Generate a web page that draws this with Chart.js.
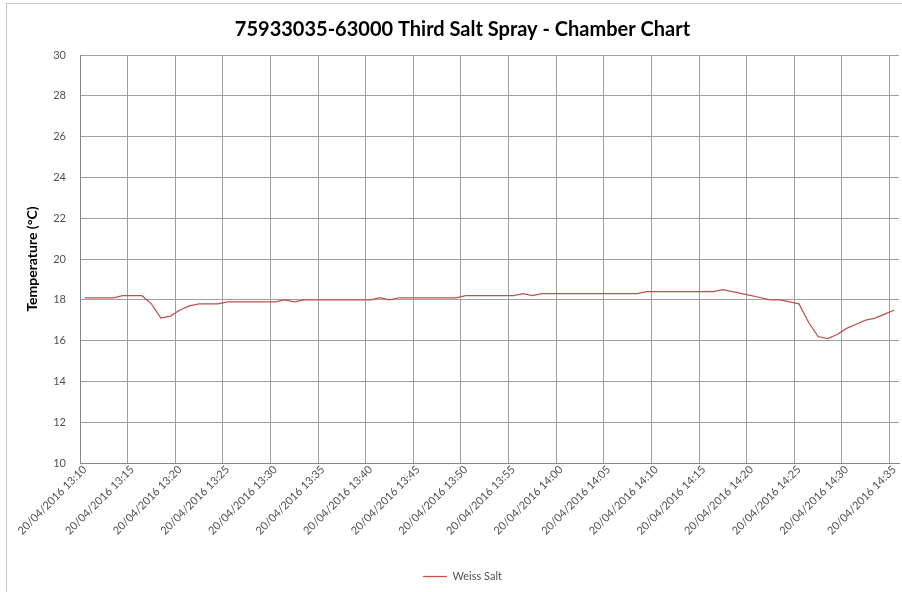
<!DOCTYPE html>
<html>
<head>
<meta charset="utf-8">
<script src="https://cdn.jsdelivr.net/npm/chart.js@4/dist/chart.umd.min.js"></script>
<style>
  html, body { margin: 0; padding: 0; background: #fff; overflow: hidden; }
  #wrap { width: 902px; height: 592px; overflow: hidden; }
</style>
</head>
<body>
<div id="wrap"><canvas id="chamberChart" width="925" height="592"></canvas></div>
<script>
// One reading per minute, 20/04/2016 13:10 to 14:35
const categories = [];
for (let m = 10; m <= 95; m++) {
    const hh = 13 + Math.floor(m / 60);
    const mm = String(m % 60).padStart(2, "0");
    categories.push("20/04/2016 " + hh + ":" + mm);
}

const weissSalt = [
    18.1, 18.1, 18.1, 18.1, 18.2, 18.2, 18.2, 17.8, 17.1, 17.2,
    17.5, 17.7, 17.8, 17.8, 17.8, 17.9, 17.9, 17.9, 17.9, 17.9,
    17.9, 18.0, 17.9, 18.0, 18.0, 18.0, 18.0, 18.0, 18.0, 18.0,
    18.0, 18.1, 18.0, 18.1, 18.1, 18.1, 18.1, 18.1, 18.1, 18.1,
    18.2, 18.2, 18.2, 18.2, 18.2, 18.2, 18.3, 18.2, 18.3, 18.3,
    18.3, 18.3, 18.3, 18.3, 18.3, 18.3, 18.3, 18.3, 18.3, 18.4,
    18.4, 18.4, 18.4, 18.4, 18.4, 18.4, 18.4, 18.5, 18.4, 18.3,
    18.2, 18.1, 18.0, 18.0, 17.9, 17.8, 16.9, 16.2, 16.1, 16.3,
    16.6, 16.8, 17.0, 17.1, 17.3, 17.5,
];

const labelEvery = 5;
const tickFont = { family: "Lato", size: 11 };
const textGrey = "#505050";
const gridGrey = "#a0a0a0";

// white background and the light frame of the chart
const chartBorder = {
    id: "chartBorder",
    beforeDraw(chart) {
        const ctx = chart.ctx;
        ctx.save();
        ctx.fillStyle = "#fff";
        ctx.fillRect(0, 0, chart.width, chart.height);
        ctx.strokeStyle = "#c4c4c4";
        ctx.lineWidth = 1;
        ctx.strokeRect(6.5, 3.5, chart.width + 40, chart.height + 40);
        ctx.restore();
    },
};

const chamberCanvas = document.getElementById("chamberChart").getContext("2d");
const chamberChart = new Chart(chamberCanvas, {
    type: "line",
    data: {
        labels: categories,
        datasets: [
            {
                label: "Weiss Salt",
                data: weissSalt,
                borderColor: "#C0504D",
                backgroundColor: "#C0504D",
                borderWidth: 1.25,
                pointRadius: 0,
                tension: 0,
            },
        ],
    },
    options: {
        responsive: false,
        animation: false,
        devicePixelRatio: 1,
        layout: { padding: 0 },
        plugins: {
            title: {
                display: true,
                text: "75933035-63000 Third Salt Spray - Chamber Chart",
                color: "#000",
                font: { family: "Lato", size: 20, weight: "bold" },
                padding: { top: 18, bottom: 13 },
            },
            legend: {
                position: "bottom",
                labels: {
                    usePointStyle: true,
                    pointStyle: "line",
                    pointStyleWidth: 24,
                    padding: 4,
                    color: textGrey,
                    font: tickFont,
                },
            },
            tooltip: { enabled: false },
        },
        scales: {
            x: {
                offset: true,
                grid: {
                    offset: true,
                    drawTicks: false,
                    color: (ctx) => (ctx.index % labelEvery === 0 ? gridGrey : "rgba(0,0,0,0)"),
                },
                border: { color: "#868686" },
                ticks: {
                    autoSkip: false,
                    minRotation: 45,
                    maxRotation: 45,
                    padding: 0,
                    color: textGrey,
                    font: tickFont,
                    callback: (value, index) => (index % labelEvery === 0 ? categories[index] : ""),
                },
                afterFit(scale) {
                    scale.height = 104;
                },
            },
            y: {
                min: 10,
                max: 30,
                ticks: { stepSize: 2, padding: 14, color: textGrey, font: tickFont },
                grid: { color: gridGrey, drawTicks: false },
                border: { color: "#868686" },
                title: {
                    display: true,
                    text: "Temperature (°C)",
                    color: "#000",
                    font: { family: "Lato", size: 14, weight: "bold" },
                    padding: { top: 24, bottom: 0 },
                },
                afterFit(scale) {
                    scale.width = 80;
                },
            },
            // empty strip on the right so the plot stops where the picture is cut
            y2: {
                position: "right",
                grid: { display: false },
                border: { display: false },
                ticks: { display: false },
                afterFit(scale) {
                    scale.width = 26;
                },
            },
        },
    },
    plugins: [chartBorder],
});
</script>
</body>
</html>
